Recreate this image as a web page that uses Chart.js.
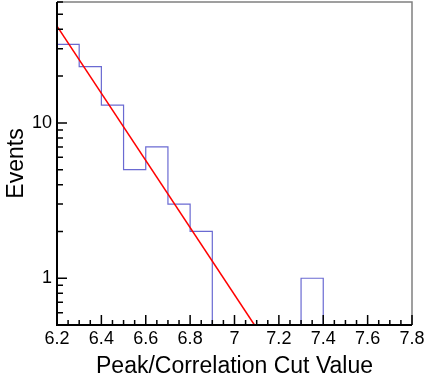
<!DOCTYPE html>
<html lang="en">
<head>
<meta charset="UTF-8" />
<title>Peak/Correlation Cut</title>
<script src="https://cdn.jsdelivr.net/npm/chart.js"></script>
<style>
  html, body { margin: 0; padding: 0; background: #fff; }
  #wrap { width: 425px; height: 384px; }
</style>
</head>
<body>
<div id="wrap"><canvas id="hist" width="425" height="384"></canvas></div>
<script>
// histogram: bin edges and counts per bin
const binEdges = [6.2, 6.3, 6.4, 6.5, 6.6, 6.7, 6.8, 6.9, 7.0, 7.1, 7.2, 7.3, 7.4, 7.5, 7.6, 7.7, 7.8];
const counts = [32, 23, 13, 5, 7, 3, 2, 0, 0, 0, 0, 1, 0, 0, 0, 0];

// exponential fit, drawn as a straight line on the log axis
const fitX = [6.2, 7.09];
const fitY = [42, 0.5];

// axis ticks
const xMajorTicks = [6.2, 6.4, 6.6, 6.8, 7.0, 7.2, 7.4, 7.6, 7.8];
const xMinorTicks = [6.25, 6.3, 6.35, 6.45, 6.5, 6.55, 6.65, 6.7, 6.75, 6.85, 6.9, 6.95,
  7.05, 7.1, 7.15, 7.25, 7.3, 7.35, 7.45, 7.5, 7.55, 7.65, 7.7, 7.75];
const yMajorTicks = [1, 10];
const yMinorTicks = [0.6, 0.7, 0.8, 0.9, 2, 3, 4, 5, 6, 7, 8, 9, 20, 30, 40, 50, 60];
const yMin = 0.5, yMax = 60;

const FONT = "'Liberation Sans', Arial, Helvetica, sans-serif";

// empty bins sit on the bottom edge of the log axis
const histPoints = binEdges.map((e, i) => ({
  x: e,
  y: Math.max(i < counts.length ? counts[i] : counts[counts.length - 1], yMin)
}));
const fitPoints = fitX.map((x, i) => ({ x: x, y: fitY[i] }));

// keep the plot frame where it is in the reference, no label overhang padding
function noPad(scale) {
  scale.paddingTop = 0;
  scale.paddingBottom = 0;
  scale.paddingLeft = 0;
  scale.paddingRight = 0;
}

// ROOT-like frame with inward tick marks
const frameTicks = {
  id: 'frameTicks',
  afterDraw(chart) {
    const { ctx, chartArea: a, scales: { x, y } } = chart;
    ctx.save();
    ctx.lineWidth = 1.5;
    ctx.strokeStyle = '#808080';
    ctx.beginPath();
    ctx.moveTo(a.left, a.top);
    ctx.lineTo(a.right, a.top);
    ctx.lineTo(a.right, a.bottom);
    ctx.stroke();

    ctx.strokeStyle = '#000';
    ctx.lineWidth = 2;
    ctx.beginPath();
    ctx.moveTo(a.left, a.top);
    ctx.lineTo(a.left, a.bottom);
    ctx.lineTo(a.right, a.bottom);
    ctx.stroke();

    ctx.lineWidth = 1.5;
    ctx.beginPath();
    xMajorTicks.forEach(v => {
      const px = x.getPixelForValue(v);
      ctx.moveTo(px, a.bottom); ctx.lineTo(px, a.bottom - 10);
    });
    xMinorTicks.forEach(v => {
      const px = x.getPixelForValue(v);
      ctx.moveTo(px, a.bottom); ctx.lineTo(px, a.bottom - 5);
    });
    yMajorTicks.forEach(v => {
      const py = y.getPixelForValue(v);
      ctx.moveTo(a.left, py); ctx.lineTo(a.left + 10, py);
    });
    yMinorTicks.forEach(v => {
      const py = y.getPixelForValue(v);
      ctx.moveTo(a.left, py); ctx.lineTo(a.left + 6, py);
    });
    ctx.stroke();
    ctx.restore();
  }
};

new Chart(document.getElementById('hist').getContext('2d'), {
  type: 'line',
  data: {
    datasets: [
      {
        label: 'fit',
        data: fitPoints,
        borderColor: '#ff0000',
        borderWidth: 1.5,
        pointRadius: 0,
        fill: false,
        order: 0
      },
      {
        label: 'Events',
        data: histPoints,
        stepped: 'before',
        borderColor: 'rgba(90, 90, 205, 0.9)',
        borderWidth: 1.2,
        pointRadius: 0,
        fill: false,
        order: 1
      }
    ]
  },
  options: {
    responsive: false,
    animation: false,
    layout: { padding: { top: 2, right: 13, left: 0, bottom: 0 } },
    plugins: {
      legend: { display: false },
      tooltip: { enabled: false }
    },
    scales: {
      x: {
        type: 'linear',
        min: 6.2,
        max: 7.8,
        afterFit(scale) { scale.height = 59; noPad(scale); },
        afterBuildTicks(scale) { scale.ticks = xMajorTicks.map(v => ({ value: v })); },
        grid: { display: false, drawTicks: false },
        border: { display: false },
        ticks: {
          autoSkip: false,
          maxRotation: 0,
          padding: 3,
          color: '#000',
          font: { family: FONT, size: 18 },
          callback: v => String(Number(v.toFixed(1)))
        },
        title: {
          display: true,
          text: 'Peak/Correlation Cut Value',
          color: '#000',
          font: { family: FONT, size: 23 },
          padding: { top: 0, bottom: 4 }
        }
      },
      y: {
        type: 'logarithmic',
        min: yMin,
        max: yMax,
        afterFit(scale) { scale.width = 57; noPad(scale); },
        afterBuildTicks(scale) { scale.ticks = yMajorTicks.map(v => ({ value: v })); },
        grid: { display: false, drawTicks: false },
        border: { display: false },
        ticks: {
          padding: 5,
          color: '#000',
          font: { family: FONT, size: 18 },
          callback: v => String(v)
        },
        title: {
          display: true,
          text: 'Events',
          color: '#000',
          font: { family: FONT, size: 23 },
          padding: { top: 3, bottom: 0 }
        }
      }
    }
  },
  plugins: [frameTicks]
});
</script>
</body>
</html>
